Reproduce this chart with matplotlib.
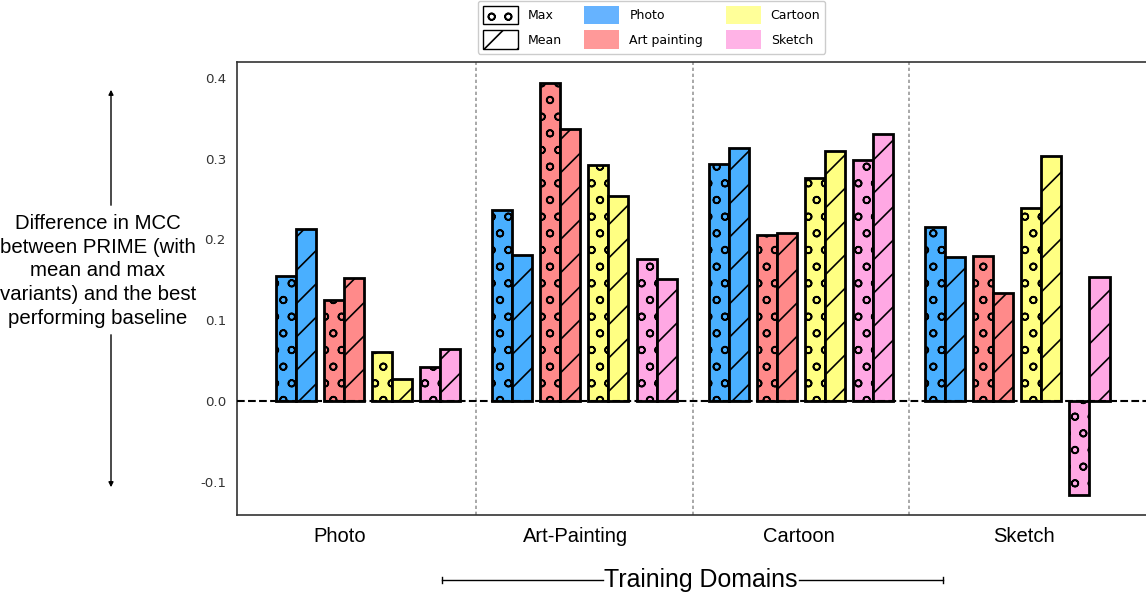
import matplotlib
matplotlib.use("Agg")
import matplotlib.pyplot as plt
import matplotlib.patches as mpatches
from matplotlib.lines import Line2D
import numpy as np

# ---------------- data ----------------
training_domains = ["Photo", "Art-Painting", "Cartoon", "Sketch"]
test_domains = ["Photo", "Art painting", "Cartoon", "Sketch"]
# values[training_domain][test_domain]
max_values = [
    [0.155, 0.125, 0.061, 0.042],   # trained on Photo
    [0.237, 0.394, 0.292, 0.176],   # trained on Art-Painting
    [0.293, 0.206, 0.276, 0.298],   # trained on Cartoon
    [0.215, 0.180, 0.239, -0.117],  # trained on Sketch
]
mean_values = [
    [0.213, 0.152, 0.027, 0.064],
    [0.181, 0.337, 0.254, 0.151],
    [0.313, 0.208, 0.310, 0.331],
    [0.178, 0.134, 0.303, 0.153],
]
ytick_values = [-0.1, 0.0, 0.1, 0.2, 0.3, 0.4]

# ---------------- style ----------------
bar_colors = ["#49AFFF", "#FF8A8A", "#FFFF82", "#FFA8E4"]
legend_colors = ["#66B3FF", "#FF9999", "#FFFF99", "#FFB3E6"]
bar_w = 0.0924
pair_offsets = [-0.333, -0.111, 0.111, 0.333]
xtick_pos = [-0.129, 0.961, 1.991, 3.030]

plt.rcParams['hatch.linewidth'] = 1.2
fig = plt.figure(figsize=(11.46, 5.96), dpi=100)
ax = fig.add_axes([237/1146, 1-515/596, 1-237/1146, (515-62)/596])

x = np.arange(len(training_domains))
for j in range(len(test_domains)):
    mx = [max_values[i][j] for i in range(len(training_domains))]
    mn = [mean_values[i][j] for i in range(len(training_domains))]
    ax.bar(x + pair_offsets[j] - bar_w/2, mx, width=bar_w, color=bar_colors[j],
           edgecolor="black", linewidth=2, hatch="o", zorder=3)
    ax.bar(x + pair_offsets[j] + bar_w/2, mn, width=bar_w, color=bar_colors[j],
           edgecolor="black", linewidth=2, hatch="/", zorder=3)

ax.axhline(0, color="black", linestyle="--", linewidth=1.5, zorder=4)
for s in [0.5, 1.5, 2.5]:
    ax.axvline(s, color="#999999", linestyle=(0, (2, 1.6)), linewidth=1.2, zorder=1)

ax.set_xlim(-0.605, 3.594)
ax.set_ylim(-0.1412, 0.4198)
ax.set_yticks(ytick_values)
ax.set_yticklabels([f"{v:.1f}" for v in ytick_values], fontsize=9.6, color="#333333")
ax.set_xticks(xtick_pos)
ax.set_xticklabels(training_domains, fontsize=14.5, family="Liberation Sans")
ax.tick_params(axis="both", length=0)
ax.tick_params(axis="y", pad=8)
ax.tick_params(axis="x", pad=9)
for sp in ["top", "left", "bottom"]:
    ax.spines[sp].set_color("#333333")
    ax.spines[sp].set_linewidth(1.2)
ax.spines["right"].set_visible(False)

# y label with arrows
fig.text(98/1146, 1-271/596,
         "Difference in MCC\nbetween PRIME (with\nmean and max\nvariants) and the best\nperforming baseline",
         ha="center", va="center", fontsize=14.7, family="Liberation Sans", linespacing=1.31)
ax_x = 111/1146
fig.add_artist(mpatches.FancyArrowPatch((ax_x, 1-208/596), (ax_x, 1-87/596),
               transform=fig.transFigure, arrowstyle="-|>", mutation_scale=7,
               color="black", linewidth=1))
fig.add_artist(mpatches.FancyArrowPatch((ax_x, 1-332/596), (ax_x, 1-490/596),
               transform=fig.transFigure, arrowstyle="-|>", mutation_scale=7,
               color="black", linewidth=1))

# x label with bracket lines
yl = 1-580/596
fig.text(701/1146, yl, "Training Domains", ha="center", va="center",
         fontsize=17.9, family="Liberation Sans")
tick_h = 3/596
for (a, b) in [(442, 603), (799, 943)]:
    fig.add_artist(Line2D([a/1146, b/1146], [yl, yl], transform=fig.transFigure,
                          color="black", linewidth=1))
for e in [442, 943]:
    fig.add_artist(Line2D([e/1146, e/1146], [yl-tick_h, yl+tick_h], transform=fig.transFigure,
                          color="black", linewidth=1))

# legend
handles = [
    mpatches.Patch(facecolor="white", edgecolor="black", hatch="o", label="Max"),
    mpatches.Patch(facecolor="white", edgecolor="black", hatch="/", label="Mean"),
]
for c, lab in zip(legend_colors, test_domains):
    handles.append(mpatches.Patch(facecolor=c, edgecolor="none", label=lab))
fig.legend(handles=handles, ncol=3, loc="upper center",
           bbox_to_anchor=(651.5/1146, 1.0), borderaxespad=0.05,
           fontsize=9, handlelength=2.8, handleheight=1.9, labelspacing=0.5,
           columnspacing=1.8, handletextpad=0.8, framealpha=1, edgecolor="#cccccc")

fig.savefig("out.png", dpi=100)
